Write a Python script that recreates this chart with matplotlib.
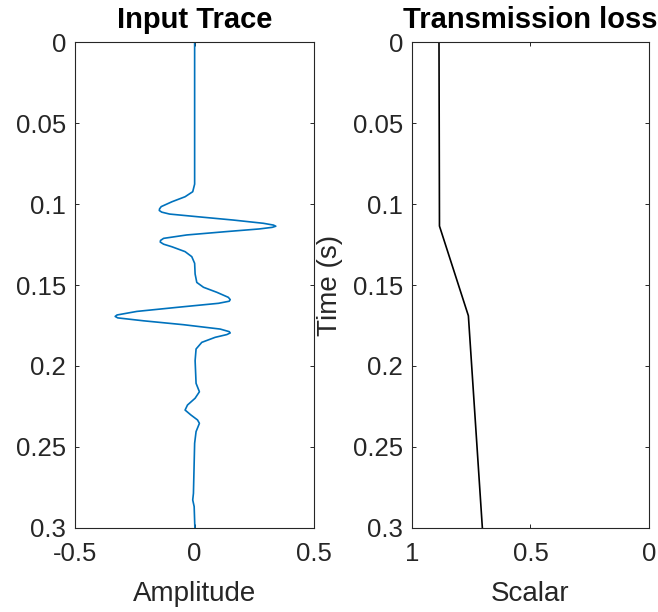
import matplotlib
matplotlib.use('Agg')
import matplotlib.pyplot as plt

# trace, time (s) vs amplitude
trace_t = [0.0, 0.0877, 0.0924, 0.0955, 0.0986, 0.1016, 0.1030, 0.1040, 0.1050, 0.1062,
           0.1078, 0.1099, 0.1119, 0.1130, 0.1137, 0.1144, 0.1154, 0.1170, 0.1191, 0.1212,
           0.1225, 0.1235, 0.1248, 0.1264, 0.1294, 0.1325, 0.1366, 0.1432, 0.1484, 0.1514,
           0.1545, 0.1576, 0.1590, 0.1600, 0.1613, 0.1638, 0.1663, 0.1685, 0.1694, 0.1703,
           0.1721, 0.1745, 0.1772, 0.1788, 0.1796, 0.1806, 0.1823, 0.1854, 0.1895, 0.1967,
           0.2107, 0.2159, 0.2199, 0.2241, 0.2272, 0.2302, 0.2333, 0.2354, 0.2405, 0.2477,
           0.2786, 0.2827, 0.2868, 0.3]
trace_amp = [0.0, 0.0, -0.008, -0.04, -0.095, -0.14, -0.147, -0.148, -0.138, -0.105,
             0.009, 0.162, 0.288, 0.33, 0.34, 0.325, 0.27, 0.135, -0.033, -0.13,
             -0.143, -0.144, -0.13, -0.095, -0.04, -0.012, 0.0, 0.002, 0.009, 0.037,
             0.093, 0.141, 0.149, 0.145, 0.1, -0.074, -0.242, -0.325, -0.333, -0.322,
             -0.214, -0.047, 0.107, 0.145, 0.149, 0.135, 0.086, 0.03, 0.006, 0.002,
             0.006, 0.02, 0.002, -0.03, -0.04, -0.016, 0.012, 0.02, 0.006, 0.0,
             -0.005, -0.008, -0.002, 0.001]

# transmission loss scalar
trans_t = [0.0, 0.1136, 0.169, 0.3]
trans_val = [0.886, 0.884, 0.762, 0.703]

time_ticks = [0, 0.05, 0.1, 0.15, 0.2, 0.25, 0.3]
time_labels = ['0', '0.05', '0.1', '0.15', '0.2', '0.25', '0.3']
amp_ticks = [-0.5, 0, 0.5]
amp_labels = ['-0.5', '0', '0.5']
scal_ticks = [1, 0.5, 0]
scal_labels = ['1', '0.5', '0']

plt.rcParams['font.family'] = ['Liberation Sans', 'DejaVu Sans']
plt.rcParams['axes.unicode_minus'] = False

GREY = '#262626'

fig = plt.figure(figsize=(6.58, 6.12), dpi=100)
ax1 = fig.add_axes([0.1144, 0.1373, 0.3628, 0.794])
ax2 = fig.add_axes([0.6261, 0.1373, 0.3602, 0.794])

for ax in (ax1, ax2):
    ax.tick_params(direction='in', length=3, width=0.7, top=True, right=True,
                   colors=GREY, labelsize=18.5, pad=6.5)
    ax.tick_params(axis='x', pad=10)
    for sp in ax.spines.values():
        sp.set_color(GREY)
        sp.set_linewidth(0.8)
    ax.set_ylim(0.3, 0)
    ax.set_yticks(time_ticks)
    ax.set_yticklabels(time_labels)

ax1.plot(trace_amp, trace_t, color='#0072BD', lw=1.2)
ax1.set_xlim(-0.5, 0.5)
ax1.set_xticks(amp_ticks)
ax1.set_xticklabels(amp_labels)
ax1.set_title('Input Trace', fontsize=21, fontweight='bold', pad=10)
ax1.set_xlabel('Amplitude', fontsize=20, color=GREY, labelpad=11)

ax2.plot(trans_val, trans_t, color='black', lw=1.2)
ax2.set_xlim(1, 0)
ax2.set_xticks(scal_ticks)
ax2.set_xticklabels(scal_labels)
ax2.set_title('Transmission loss', fontsize=21, fontweight='bold', pad=10)
ax2.set_xlabel('Scalar', fontsize=20, color=GREY, labelpad=11)
ax2.set_ylabel('Time (s)', fontsize=20, color=GREY)
ax2.yaxis.set_label_coords(-0.29, 0.5)

fig.savefig('out.png', dpi=100)
